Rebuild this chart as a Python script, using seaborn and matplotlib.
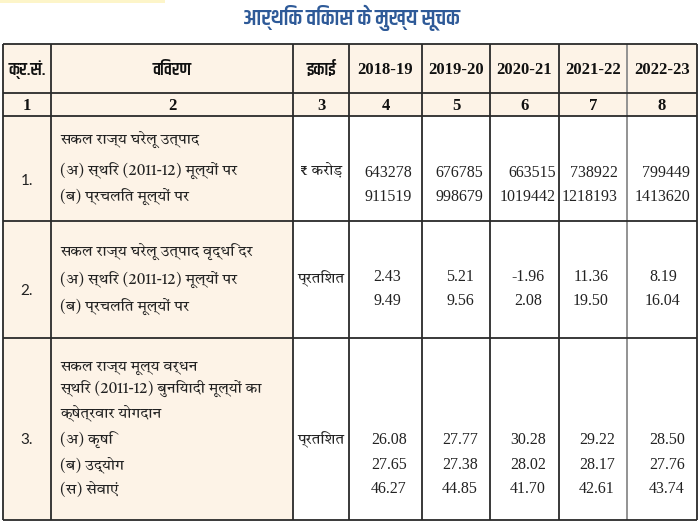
import matplotlib
matplotlib.use("Agg")
import matplotlib.pyplot as plt
from matplotlib import font_manager
from matplotlib.patches import Rectangle
import seaborn as sns

# ---------------- data ----------------
title = "आर्थिक विकास के मुख्य सूचक"
head_labels = ["क्र.सं.", "विवरण", "इकाई"]
years = ["2018-19", "2019-20", "2020-21", "2021-22", "2022-23"]
col_numbers = ["1", "2", "3", "4", "5", "6", "7", "8"]
serials = ["1.", "2.", "3."]
units = ["₹ करोड़", "प्रतिशत", "प्रतिशत"]
desc_gsdp = ["सकल राज्य घरेलू उत्पाद", "(अ) स्थिर (2011-12) मूल्यों पर", "(ब) प्रचलित मूल्यों पर"]
desc_growth = ["सकल राज्य घरेलू उत्पाद वृद्धि दर", "(अ) स्थिर (2011-12) मूल्यों पर", "(ब) प्रचलित मूल्यों पर"]
desc_share = ["सकल राज्य मूल्य वर्धन", "स्थिर (2011-12) बुनियादी मूल्यों का", "क्षेत्रवार योगदान",
              "(अ) कृषि", "(ब) उद्योग", "(स) सेवाएं"]
gsdp_constant = [643278, 676785, 663515, 738922, 799449]
gsdp_current = [911519, 998679, 1019442, 1218193, 1413620]
growth_constant = [2.43, 5.21, -1.96, 11.36, 8.19]
growth_current = [9.49, 9.56, 2.08, 19.50, 16.04]
share_agri = [26.08, 27.77, 30.28, 29.22, 28.50]
share_industry = [27.65, 27.38, 28.02, 28.17, 27.76]
share_services = [46.27, 44.85, 41.70, 42.61, 43.74]

# ---------------- fonts ----------------
sns.set_theme(style="white")
_names = {f.name for f in font_manager.fontManager.ttflist}


def pick(prefs):
    for p in prefs:
        if p in _names:
            return p
    return "FreeSans"


body_font = pick(["Tiro Devanagari Hindi", "Sahitya", "Noto Serif Devanagari", "Martel", "FreeSerif"])
cond_font = pick(["Khand", "Pragati Narrow", "Yantramanav", "Rajdhani", "Noto Sans Devanagari", "FreeSans"])
body_family = [body_font, "FreeSerif", "DejaVu Sans"]
cond_family = [cond_font, "FreeSans", "DejaVu Sans"]
plt.rcParams["font.family"] = body_family

# ---------------- layout ----------------
W, H = 699, 522
col_edges = [3, 51, 293, 349, 422, 490, 559, 627, 697]
row_edges = [44, 93, 116, 221, 338, 520]
beige = "#fdf3e7"
line_c = "#2a2a2a"
title_c = "#2e5a98"
txt_c = "#222222"

fig = plt.figure(figsize=(W / 100, H / 100), dpi=100)
ax = fig.add_axes([0, 0, 1, 1])
ax.set_xlim(0, W)
ax.set_ylim(H, 0)
ax.axis("off")

ax.add_patch(Rectangle((0, 0), 165, 3, color="#fdf5c9", lw=0))

ax.add_patch(Rectangle((col_edges[0], row_edges[0]), col_edges[-1] - col_edges[0],
                       row_edges[2] - row_edges[0], color=beige, lw=0))
ax.add_patch(Rectangle((col_edges[0], row_edges[2]), col_edges[2] - col_edges[0],
                       row_edges[-1] - row_edges[2], color=beige, lw=0))

for x in col_edges:
    c = "#8a8a8a" if x == 627 else line_c
    ax.plot([x, x], [row_edges[0], row_edges[-1]], color=c, lw=1.3, solid_capstyle="butt")
for y in row_edges:
    ax.plot([col_edges[0], col_edges[-1]], [y, y], color=line_c, lw=1.3, solid_capstyle="butt")

ax.text(351, 18, title, ha="center", va="center", fontsize=16, color=title_c,
        fontweight="semibold", family=cond_family)

centers = [(col_edges[i] + col_edges[i + 1]) / 2 for i in range(len(col_edges) - 1)]

hy = (row_edges[0] + row_edges[1]) / 2 + 1
for i, lab in enumerate(head_labels):
    ax.text(centers[i], hy, lab, ha="center", va="center", fontsize=13,
            fontweight="semibold", family=cond_family, color="#111111")
for i, yr in enumerate(years):
    ax.text(centers[i + 3], hy, yr, ha="center", va="center", fontsize=12,
            fontweight="bold", family="Liberation Serif", color="#111111")

ny = (row_edges[1] + row_edges[2]) / 2 + 1
for i, n in enumerate(col_numbers):
    ax.text(centers[i], ny, n, ha="center", va="center", fontsize=12,
            fontweight="bold", family="Liberation Serif", color="#111111")

desc_x = 60
dfs = 11
nfs = 11.5
ufs = 11

# ---- block 1 ----
for y, s in zip([140, 170, 196], desc_gsdp):
    ax.text(desc_x, y, s, ha="left", va="center", fontsize=dfs, family=body_family, color=txt_c)
ax.text(centers[0], 181, serials[0], ha="center", va="center", fontsize=11,
        family="Lato", color=txt_c)
ax.text(centers[2], 170, units[0], ha="center", va="center", fontsize=ufs,
        family=body_family, color=txt_c)
right_x = [412, 483, 556, 618, 690]
for j in range(5):
    ax.text(right_x[j], 173, f"{gsdp_constant[j]:d}", ha="right", va="center",
            fontsize=nfs, family="Liberation Serif", color=txt_c)
    ax.text(right_x[j], 197, f"{gsdp_current[j]:d}", ha="right", va="center",
            fontsize=nfs, family="Liberation Serif", color=txt_c)

# ---- block 2 ----
for y, s in zip([252, 279, 306], desc_growth):
    ax.text(desc_x, y, s, ha="left", va="center", fontsize=dfs, family=body_family, color=txt_c)
ax.text(centers[0], 291, serials[1], ha="center", va="center", fontsize=11,
        family="Lato", color=txt_c)
ax.text(centers[2], 279, units[1], ha="center", va="center", fontsize=ufs,
        family=body_family, color=txt_c)
c2 = [387, 460, 528, 591, 663]
for j in range(5):
    ax.text(c2[j], 277, f"{growth_constant[j]:.2f}", ha="center", va="center",
            fontsize=nfs, family="Liberation Serif", color=txt_c)
    ax.text(c2[j], 301, f"{growth_current[j]:.2f}", ha="center", va="center",
            fontsize=nfs, family="Liberation Serif", color=txt_c)

# ---- block 3 ----
for y, s in zip([367, 388, 413, 440, 465, 490], desc_share):
    ax.text(desc_x, y, s, ha="left", va="center", fontsize=dfs, family=body_family, color=txt_c)
ax.text(centers[0], 440, serials[2], ha="center", va="center", fontsize=11,
        family="Lato", color=txt_c)
ax.text(centers[2], 440, units[2], ha="center", va="center", fontsize=ufs,
        family=body_family, color=txt_c)
c3 = [389, 460, 528, 597, 667]
for j in range(5):
    for y, arr in zip([440, 465, 489], [share_agri, share_industry, share_services]):
        ax.text(c3[j], y, f"{arr[j]:.2f}", ha="center", va="center",
                fontsize=nfs, family="Liberation Serif", color=txt_c)

fig.savefig("out.png", dpi=100, facecolor="white")
